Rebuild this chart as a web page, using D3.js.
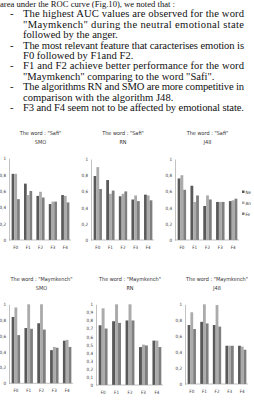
<!DOCTYPE html>
<html lang="en">
<head>
<meta charset="UTF-8">
<title>AUC by feature</title>
<script src="https://d3js.org/d3.v7.min.js"></script>
<style>
  body { margin: 0; background: #fff; }
  svg { display: block; }
  .para { font-family: "Liberation Serif", "Times New Roman", serif; font-size: 10.6px; fill: #111; }
  .chart text { font-family: "Liberation Sans Narrow", "DejaVu Sans Condensed", "Liberation Sans", sans-serif; fill: #333; }
  .axis path, .axis line { stroke: #999; stroke-width: 0.6; }
</style>
</head>
<body>
<svg id="page" width="254" height="402"></svg>
<script>
// ----- data -----
var features = ["F0", "F1", "F2", "F3", "F4"];
var states = ["Ne", "An", "Fe"];

var safiSMO   = [[0.81, 0.81, 0.50], [0.69, 0.55, 0.60], [0.54, 0.59, 0.52], [0.44, 0.47, 0.47], [0.55, 0.54, 0.46]];
var safiRN    = [[0.79, 0.90, 0.63], [0.74, 0.57, 0.61], [0.54, 0.57, 0.60], [0.50, 0.55, 0.48], [0.56, 0.55, 0.49]];
var safiJ48   = [[0.76, 0.80, 0.62], [0.67, 0.47, 0.55], [0.42, 0.55, 0.50], [0.47, 0.47, 0.47], [0.48, 0.49, 0.51]];
var maymSMO   = [[0.84, 0.96, 0.61], [0.70, 1.00, 0.69], [0.76, 1.00, 0.68], [0.42, 0.46, 0.45], [0.54, 0.55, 0.46]];
var maymRN    = [[0.74, 0.95, 0.70], [0.79, 1.00, 0.77], [0.80, 1.00, 0.80], [0.47, 0.50, 0.49], [0.55, 0.55, 0.47]];
var maymJ48   = [[0.74, 0.90, 0.69], [0.78, 1.00, 0.76], [0.74, 0.99, 0.72], [0.48, 0.48, 0.48], [0.48, 0.47, 0.43]];

var ticks5 = [0, 0.2, 0.4, 0.6, 0.8, 1];
var ticks10 = [0, 0.1, 0.2, 0.3, 0.4, 0.5, 0.6, 0.7, 0.8, 0.9, 1];

var paraLines = [
  "area under the ROC curve (Fig.10), we noted that :",
  "The  highest  AUC values are observed for the word",
  "\"Maymkench\"  during  the  neutral  emotional  state",
  "followed by the anger.",
  "The most relevant feature that caracterises emotion is",
  "F0 followed by F1and F2.",
  "F1 and F2 achieve better performance for the word",
  "\"Maymkench\" comparing to the word \"Safi\".",
  "The algorithms RN and SMO are more competitive in",
  "comparison with  the algorithm J48.",
  "F3 and  F4 seem not to be affected by emotional state."
];

var colors = ["#595959", "#ababab", "#7f7f7f"];

var svg = d3.select("#page");

// ----- paragraph -----
var para = svg.append("g").attr("class", "para");
paraLines.forEach(function(line, i) {
  var y = i === 0 ? 6.5 : 17.2 + (i - 1) * 10.45;
  var x = i === 0 ? 0 : 23;
  var bullet = [1, 4, 6, 8, 10].indexOf(i) >= 0;
  var justified = [1, 2, 4, 6, 8, 10].indexOf(i) >= 0;
  if (bullet) para.append("text").attr("x", 10).attr("y", y).text("-");
  var t = para.append("text").attr("x", x).attr("y", y).text(line);
  if (i === 0) t.style("font-size", "8.6px");
  if (justified) t.attr("textLength", 221).attr("lengthAdjust", "spacing");
});

// ----- panels -----
var panels = [
  {word: "Safi", algo: "SMO", data: safiSMO, ticks: ticks5, left: 11, right: 70, top: 158.3, bottom: 240, titleY: 135},
  {word: "Safi", algo: "RN",  data: safiRN,  ticks: ticks5, left: 93, right: 153, top: 159, bottom: 240, titleY: 135},
  {word: "Safi", algo: "J48", data: safiJ48, ticks: ticks5, left: 177, right: 238, top: 159, bottom: 240, titleY: 135, legend: true},
  {word: "Maymkench", algo: "SMO", data: maymSMO, ticks: ticks5, left: 11, right: 72, top: 304.3, bottom: 383.3, titleY: 281},
  {word: "Maymkench", algo: "RN",  data: maymRN,  ticks: ticks10, left: 98, right: 162, top: 304.3, bottom: 385, titleY: 281},
  {word: "Maymkench", algo: "J48", data: maymJ48, ticks: ticks5, left: 187, right: 247, top: 304.3, bottom: 384, titleY: 281}
];

var fmt = function(d) { return d === 0 || d === 1 ? String(d) : String(d).replace(".", ","); };

panels.forEach(function(p) {
  var g = svg.append("g").attr("class", "chart");

  var x = d3.scaleBand().domain(features).range([p.left, p.right]).paddingInner(0.34).paddingOuter(0.05);
  var xs = d3.scaleBand().domain(d3.range(states.length)).range([0, x.bandwidth()]);
  var y = d3.scaleLinear().domain([0, 1]).range([p.bottom, p.top]);

  var cx = (p.left + p.right) / 2;
  g.append("text").attr("x", cx).attr("y", p.titleY).attr("text-anchor", "middle")
    .style("font-size", "5.5px").text("The word : \"" + p.word + "\"");
  g.append("text").attr("x", cx).attr("y", p.titleY + 9).attr("text-anchor", "middle")
    .style("font-size", "5.5px").text(p.algo);

  var groups = g.selectAll(".grp").data(p.data).enter().append("g")
    .attr("transform", function(d, i) { return "translate(" + x(features[i]) + ",0)"; });
  groups.selectAll("rect").data(function(d) { return d; }).enter().append("rect")
    .attr("x", function(d, j) { return xs(j); })
    .attr("width", xs.bandwidth())
    .attr("y", function(d) { return y(d); })
    .attr("height", function(d) { return y(0) - y(d); })
    .attr("fill", function(d, j) { return colors[j]; });

  var ya = g.append("g").attr("class", "axis")
    .attr("transform", "translate(" + (p.left - 2) + ",0)")
    .call(d3.axisLeft(y).tickValues(p.ticks).tickFormat(fmt).tickSize(0).tickPadding(3));
  ya.select(".domain").attr("stroke", "#ccc");
  ya.selectAll("text").style("font-size", "4.5px");

  var xa = g.append("g").attr("class", "axis")
    .attr("transform", "translate(0," + p.bottom + ")")
    .call(d3.axisBottom(x).tickSize(0).tickPadding(6));
  xa.select(".domain").attr("stroke", "#444").attr("d", "M" + (p.left - 2) + ",0H" + (p.right + 1));
  xa.selectAll("text").style("font-size", "4.5px");

  if (p.legend) {
    var lg = g.append("g");
    states.forEach(function(s, i) {
      var ly = 192 + i * 11;
      lg.append("rect").attr("x", 242).attr("y", ly - 1.5).attr("width", 2.5).attr("height", 2.5).attr("fill", colors[i]);
      lg.append("text").attr("x", 245.5).attr("y", ly + 1.5).style("font-size", "4.5px").text(s);
    });
  }
});
</script>
</body>
</html>
